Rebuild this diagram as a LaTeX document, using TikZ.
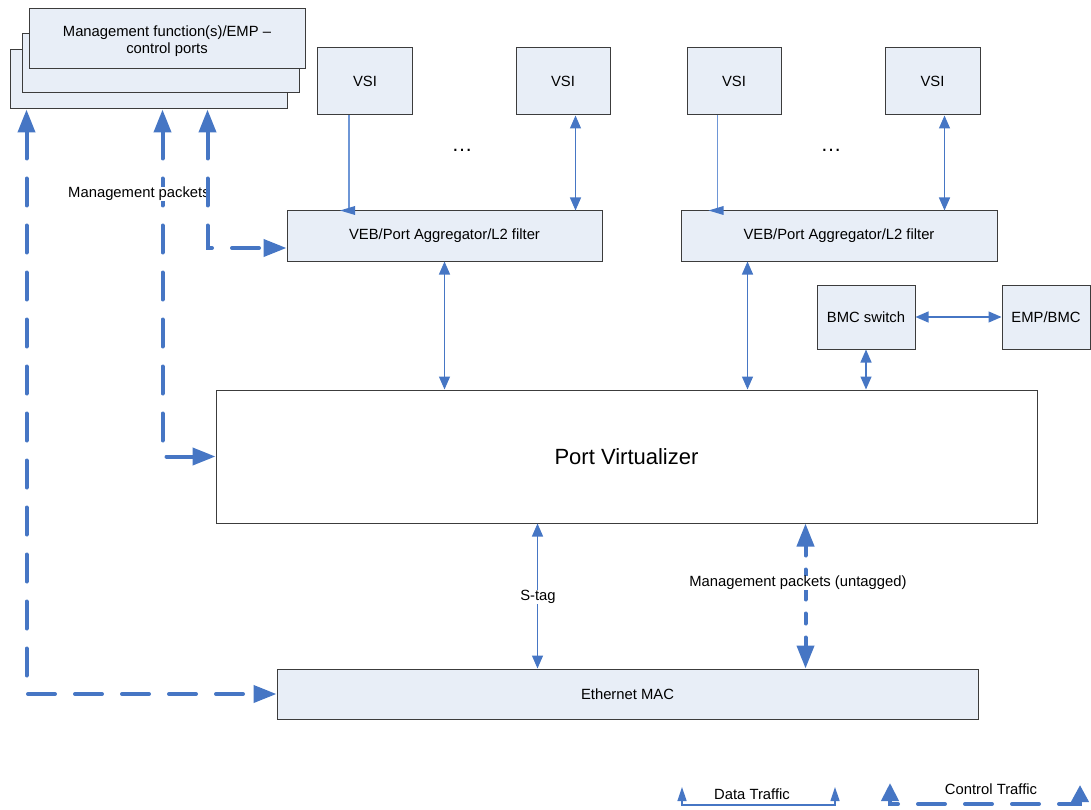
\documentclass[tikz,border=0pt]{standalone}
\usepackage{fontspec}
\setmainfont{Liberation Sans}
\usetikzlibrary{arrows.meta,calc}
\definecolor{boxfill}{RGB}{232,238,247}
\definecolor{boxline}{RGB}{60,60,60}
\definecolor{flow}{RGB}{70,118,196}
\definecolor{flowlight}{RGB}{110,150,214}
\begin{document}
\begin{tikzpicture}[x=1pt,y=-1pt,
  box/.style={draw=boxline, fill=boxfill, line width=1pt, inner sep=0pt,
    font=\fontsize{14.8}{17.5}\selectfont, align=center},
  lbl/.style={inner sep=0.5pt, font=\fontsize{14.8}{17.5}\selectfont},
  data/.style={draw=flow, line width=1.3pt, {Triangle[length=13pt,width=11pt]}-{Triangle[length=13pt,width=11pt]}},
  ctrl/.style={draw=flow, line width=4pt, dash pattern=on 27pt off 20pt, line cap=round},
]
\useasboundingbox (0,0) rectangle (1091,810);

% management stacked boxes
\node[box, minimum width=277pt, minimum height=59pt] (mg3) at (148.5,79.5) {};
\node[box, minimum width=277pt, minimum height=59pt] (mg2) at (160.5,63.5) {};
\node[box, minimum width=276pt, minimum height=60pt] (mg1) at (167,39) {};
\node[lbl, align=center] (mgt) at (167,41) {Management function(s)/EMP --\\control ports};

% VSIs
\node[box, minimum width=95pt, minimum height=67pt] (vsi1) at (365,81.5) {VSI};
\node[box, minimum width=94pt, minimum height=67pt] (vsi2) at (563,81.5) {VSI};
\node[box, minimum width=94pt, minimum height=67pt] (vsi3) at (734,81.5) {VSI};
\node[box, minimum width=95pt, minimum height=67pt] (vsi4) at (932.5,81.5) {VSI};
\node[lbl, font=\fontsize{21}{24}\selectfont] (dots1) at (462,150) {…};
\node[lbl, font=\fontsize{21}{24}\selectfont] (dots2) at (831,150) {…};

% VEBs
\node[box, minimum width=315pt, minimum height=50pt] (veb1) at (444.5,236) {VEB/Port Aggregator/L2 filter};
\node[box, minimum width=316pt, minimum height=50pt] (veb2) at (839,236) {VEB/Port Aggregator/L2 filter};

% BMC
\node[box, minimum width=98pt, minimum height=64pt] (bmc) at (866,317) {BMC switch};
\node[box, minimum width=88pt, minimum height=64pt] (emp) at (1046,317) {EMP/BMC};

% Port virtualizer and MAC
\node[box, fill=white, minimum width=821pt, minimum height=133pt, font=\fontsize{22}{26}\selectfont] (pv) at (626.5,456.5) {Port Virtualizer};
\node[box, minimum width=701pt, minimum height=50pt] (mac) at (627.5,694) {Ethernet MAC};

% data connectors VSI - VEB
\coordinate (v1a) at ($(vsi1.south west)+(32,0)$);
\coordinate (v2a) at ($(vsi2.south west)+(60,0)$);
\coordinate (v3a) at ($(vsi3.south west)+(31,0)$);
\coordinate (v4a) at ($(vsi4.south west)+(60,0)$);
\draw[flowlight, line width=1.1pt] (v1a) -- (v1a |- veb1.north) coordinate (v1b);
\fill[flow] ($(v1b)+(-9,0)$) -- ++(15,-4.5) -- ++(0,9) -- cycle;
\draw[flowlight, line width=1.1pt] (v3a) -- (v3a |- veb2.north) coordinate (v3b);
\fill[flow] ($(v3b)+(-9,0)$) -- ++(15,-4.5) -- ++(0,9) -- cycle;
\draw[data] (v2a) -- (v2a |- veb1.north);
\draw[data] (v4a) -- (v4a |- veb2.north);

% VEB - PV
\draw[data] (veb1.south) -- (veb1.south |- pv.north);
\coordinate (e2a) at ($(veb2.south west)+(67,0)$);
\draw[data] (e2a) -- (e2a |- pv.north);
\draw[data] (bmc.south) -- (bmc.south |- pv.north);
\draw[data] (bmc.east) -- (emp.west);

% PV - MAC
\coordinate (sa) at ($(pv.south west)+(322,0)$);
\draw[data] (sa) -- (sa |- mac.north);
\coordinate (mu) at ($(pv.south west)+(590,0)$);
\draw[ctrl, dash pattern=on 10pt off 14pt on 30pt off 14pt, {Triangle[length=23pt,width=17pt]}-{Triangle[length=23pt,width=17pt]}] (mu) -- (mu |- mac.north);
\node[lbl, fill=white] (stag) at (538,597) {S-tag};
\node[lbl, fill=white] (mpu) at (798,583) {Management packets (untagged)};

% management control paths
\coordinate (m1) at ($(mg3.south west)+(17,0)$);
\coordinate (m2) at ($(mg3.south west)+(153,0)$);
\coordinate (m3) at ($(mg3.south west)+(198,0)$);
\draw[ctrl, {Triangle[length=23pt,width=17pt]}-{Triangle[length=23pt,width=17pt]}] (m1) |- (mac.west);
\draw[ctrl, {Triangle[length=23pt,width=17pt]}-{Triangle[length=23pt,width=17pt]}] (m2) |- (pv.west);
\node[lbl, fill=white] (mp) at (139,194) {Management packets};
\draw[ctrl, {Triangle[length=23pt,width=17pt]}-{Triangle[length=23pt,width=17pt]}] (m3) |- ([yshift=-12pt]veb1.west);

% legend
\coordinate (dl1) at (682,787);
\coordinate (dlb) at (835,805);
\coordinate (dl2) at (835,787);
\draw[data, {Triangle[length=14pt,width=9pt]}-{Triangle[length=14pt,width=9pt]}] (dl1) |- (dlb) -- (dl2);
\node[lbl] (dt) at (752,794) {Data Traffic};
\coordinate (cl1) at (890,783);
\coordinate (clb) at (1080,804);
\coordinate (cl2) at (1080,785);
\draw[ctrl, dash phase=15pt, {Triangle[length=18pt,width=17pt]}-{Triangle[length=17pt,width=17pt]}] (cl1) |- (clb) -- (cl2);
\node[lbl] (ct) at (991,789) {Control Traffic};
\end{tikzpicture}
\end{document}
